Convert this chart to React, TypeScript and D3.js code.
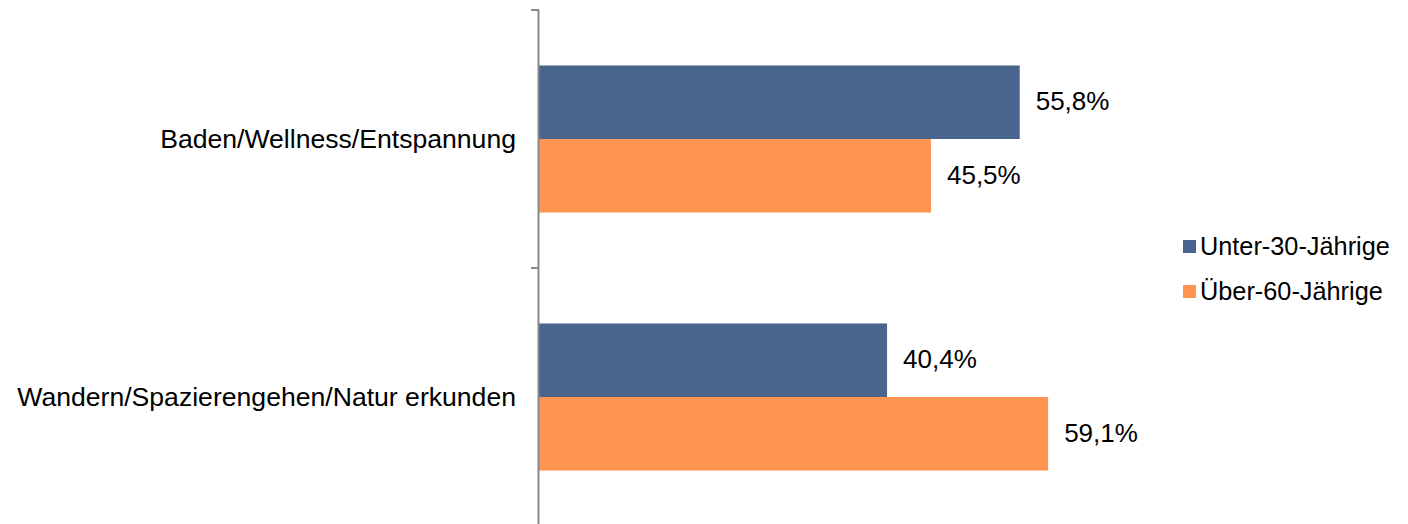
import React from "react";
import * as d3 from "d3";

const categories = ["Baden/Wellness/Entspannung", "Wandern/Spazierengehen/Natur erkunden"];
const seriesNames = ["Unter-30-Jährige", "Über-60-Jährige"];
const under30 = [55.8, 40.4];
const over60 = [45.5, 59.1];
const seriesColors = ["#4A658D", "#FF9550"];

const W = 1408;
const H = 524;
const FONT = "'Liberation Sans', Arial, sans-serif";

export default function App() {
  const x = d3.scaleLinear().domain([0, 100]).range([539, 539 + 861.5]);
  const y = d3.scaleBand<string>().domain(categories).range([10, 526]).paddingInner(0.43).paddingOuter(0.215);
  const step = y.step();
  const ySeries = d3.scaleBand<string>().domain(seriesNames).range([0, y.bandwidth()]);
  const values = [under30, over60];
  const fmt = (v: number) => d3.format(".1f")(v).replace(".", ",") + "%";
  const tickYs = d3.range(categories.length + 1).map((i) => 10 + i * step);

  return (
    <div style={{ position: "absolute", left: 0, top: 0 }}>
      <svg width={W} height={H} style={{ display: "block", fontFamily: FONT }}>
        <rect width={W} height={H} fill="#fff" />
        {categories.map((c, ci) =>
          seriesNames.map((s, si) => {
            const v = values[si][ci];
            const by = (y(c) as number) + (ySeries(s) as number);
            const bh = ySeries.bandwidth();
            return (
              <g key={c + s}>
                <rect x={x(0)} y={by} width={x(v) - x(0)} height={bh} fill={seriesColors[si]} />
                <text x={x(v) + 16} y={by + bh / 2 + 1} dominantBaseline="middle" fontSize={26} fill="#000">
                  {fmt(v)}
                </text>
              </g>
            );
          })
        )}
        <line x1={538.5} x2={538.5} y1={10} y2={H} stroke="#888" strokeWidth={2} />
        {tickYs.map((t) => (
          <line key={t} x1={531} x2={539} y1={t} y2={t} stroke="#888" strokeWidth={2} />
        ))}
        {categories.map((c) => (
          <text key={c} x={516} y={(y(c) as number) + y.bandwidth() / 2 + 2} textAnchor="end" dominantBaseline="middle" fontSize={26.6} fill="#000">
            {c}
          </text>
        ))}
        {seriesNames.map((s, i) => (
          <g key={s} transform={`translate(1183, ${240 + i * 45})`}>
            <rect x={0} y={0} width={13} height={13} fill={seriesColors[i]} />
            <text x={17} y={8.5} dominantBaseline="middle" fontSize={25.3} fill="#000">
              {s}
            </text>
          </g>
        ))}
      </svg>
    </div>
  );
}
